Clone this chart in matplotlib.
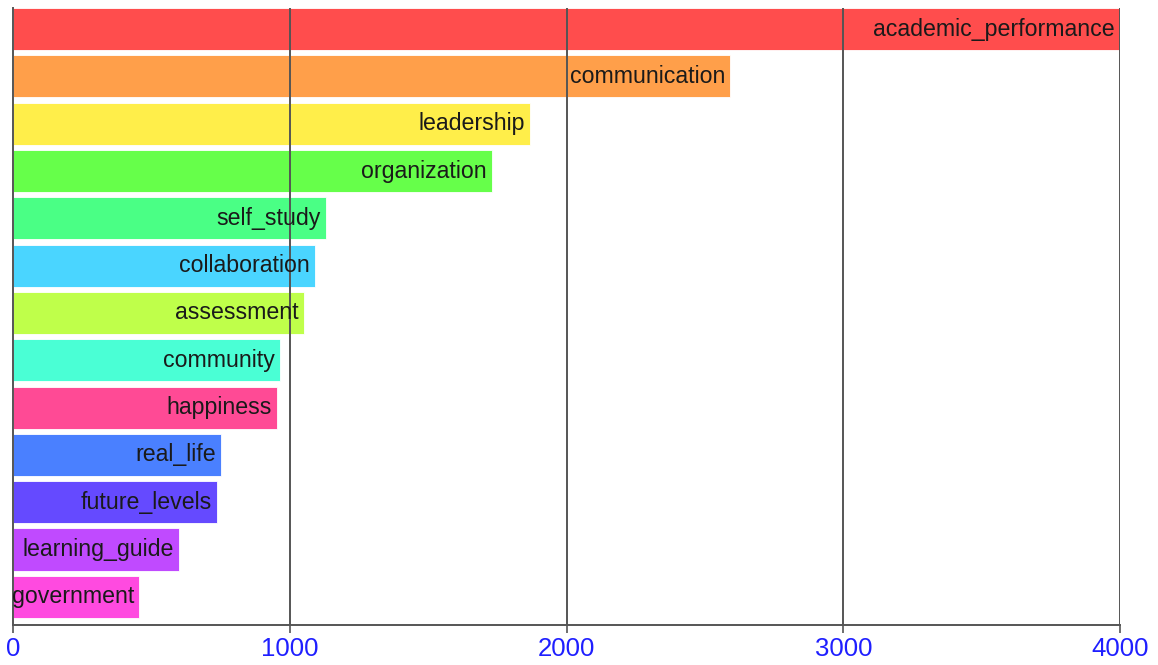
import matplotlib.pyplot as plt

categories = ["academic_performance", "communication", "leadership", "organization",
              "self_study", "collaboration", "assessment", "community", "happiness",
              "real_life", "future_levels", "learning_guide", "government"]
counts = [4000, 2592, 1868, 1731, 1131, 1091, 1051, 965, 954, 752, 737, 600, 455]
bar_colors = ["#ff4d4d", "#ff9f4a", "#ffee4a", "#66ff4a", "#4aff85", "#4ad5ff", "#bfff4a",
              "#4affd5", "#ff4a95", "#4a80ff", "#654aff", "#c04aff", "#ff4ae0"]
xticks = [0, 1000, 2000, 3000, 4000]

plt.rcParams['font.family'] = ['Liberation Sans', 'DejaVu Sans']

fig = plt.figure(figsize=(11.58, 6.65), dpi=100)
ax = fig.add_axes([13 / 1158, 40 / 665, 1107 / 1158, 617 / 665])

ypos = list(range(len(categories)))
h = 0.89
ax.barh(ypos, counts, height=h, color=bar_colors, edgecolor="white", linewidth=0.6, zorder=1)

for y, v, name in zip(ypos, counts, categories):
    ax.text(v - 18, y, name, ha="right", va="center", fontsize=16.7, color="#1a1a1a", zorder=3)

ax.set_xlim(0, 4000)
ax.set_ylim(len(categories) - 1 + h / 2 + 0.15, -h / 2)
ax.set_xticks(xticks)
ax.set_xticklabels([str(t) for t in xticks])
ax.set_yticks([])
ax.tick_params(axis="x", colors="#555555", labelcolor="#1f1fff", labelsize=18.5,
               length=6, width=1.2, direction="out", pad=3)
for t in xticks[1:]:
    ax.axvline(t, color="#555555", linewidth=1.4, zorder=2)

for side in ["top", "right"]:
    ax.spines[side].set_visible(False)
for side in ["left", "bottom"]:
    ax.spines[side].set_color("#555555")
    ax.spines[side].set_linewidth(1.4)

fig.savefig("out.png", dpi=100)
